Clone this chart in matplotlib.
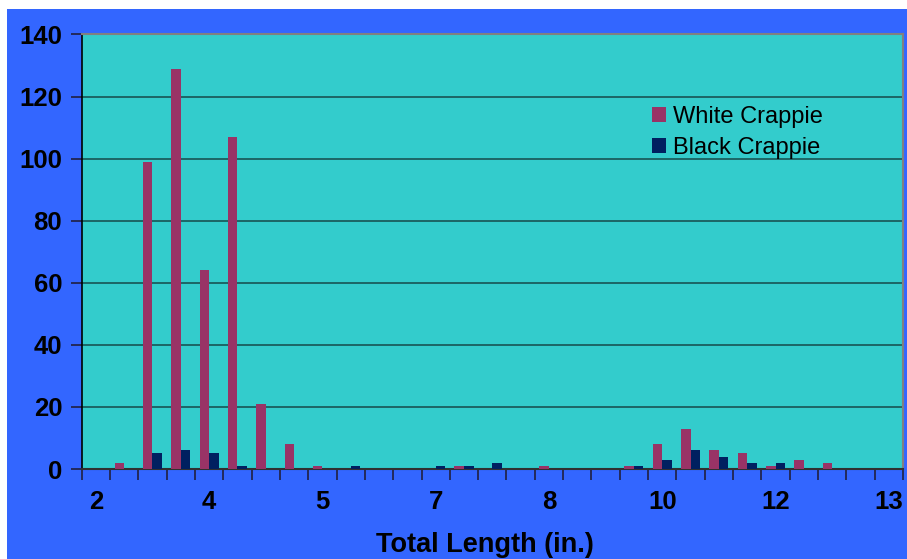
import numpy as np
import matplotlib
matplotlib.use("Agg")
import matplotlib.pyplot as plt
from matplotlib.patches import Rectangle

# length classes (category axis, labelled every 4th class)
tick_labels = ["2", "4", "5", "7", "8", "10", "12", "13"]
white_crappie = [0, 2, 99, 129, 64, 107, 21, 8, 1, 0, 0, 0, 0, 1, 0,
                 0, 1, 0, 0, 1, 8, 13, 6, 5, 1, 3, 2, 0, 0]
black_crappie = [0, 0, 5, 6, 5, 1, 0, 0, 0, 1, 0, 0, 1, 1, 2,
                 0, 0, 0, 0, 1, 3, 6, 4, 2, 2, 0, 0, 0, 0]

plt.rcParams['font.family'] = ['Liberation Sans', 'DejaVu Sans']

fig = plt.figure(figsize=(9.07, 5.59), dpi=100, facecolor="white")
# blue chart background
fig.patches.append(Rectangle((7 / 907, 0), 1, 1 - 9 / 559, transform=fig.transFigure,
                             facecolor="#3366FF", edgecolor="none", zorder=-1))

ax = fig.add_axes([0.090, 0.161, 0.9056, 0.7773])
ax.set_facecolor("#33CCCC")

x = np.arange(len(white_crappie))
w = 0.336
ax.bar(x - w / 2, white_crappie, w, color="#993366", label="White Crappie", zorder=3)
ax.bar(x + w / 2, black_crappie, w, color="#002060", label="Black Crappie", zorder=3)

ax.set_xlim(-0.5, len(x) - 0.5)
ax.set_ylim(0, 140)
ax.set_yticks(np.arange(0, 141, 20))
ax.yaxis.grid(True, color="#1A5E5E", linewidth=1.3, zorder=1)

# tick marks between classes, labels under every 4th class
ax.set_xticks(np.arange(-0.5, len(x), 1))
ax.set_xticklabels([])
ax.set_xticks(np.arange(0, len(x), 4), minor=True)
ax.set_xticklabels(tick_labels, minor=True)
ax.tick_params(axis="x", which="major", direction="out", length=8, width=1.2, color="#202040")
ax.tick_params(axis="x", which="minor", length=0, pad=15, labelsize=18.5)
ax.tick_params(axis="y", direction="out", length=8, width=1.2, color="#202040", pad=6, labelsize=18.5)
for lab in ax.get_xticklabels(minor=True) + ax.get_yticklabels():
    lab.set_fontweight("bold")

for s in ["top", "right"]:
    ax.spines[s].set_color("#808080")
    ax.spines[s].set_linewidth(1.5)
ax.spines["left"].set_color("black")
ax.spines["bottom"].set_color("#303030")
ax.spines["left"].set_linewidth(1.2)
ax.spines["bottom"].set_linewidth(1.5)

ax.set_xlabel("Total Length (in.)", fontsize=19.5, fontweight="bold")
ax.xaxis.set_label_coords(0.491, -0.146)

leg = ax.legend(loc="upper left", bbox_to_anchor=(0.683, 0.858), frameon=False,
                fontsize=17, handlelength=0.6, handleheight=0.6, handletextpad=0.3,
                labelspacing=0.4, borderaxespad=0)

fig.savefig("out.png", dpi=100, facecolor=fig.get_facecolor())
